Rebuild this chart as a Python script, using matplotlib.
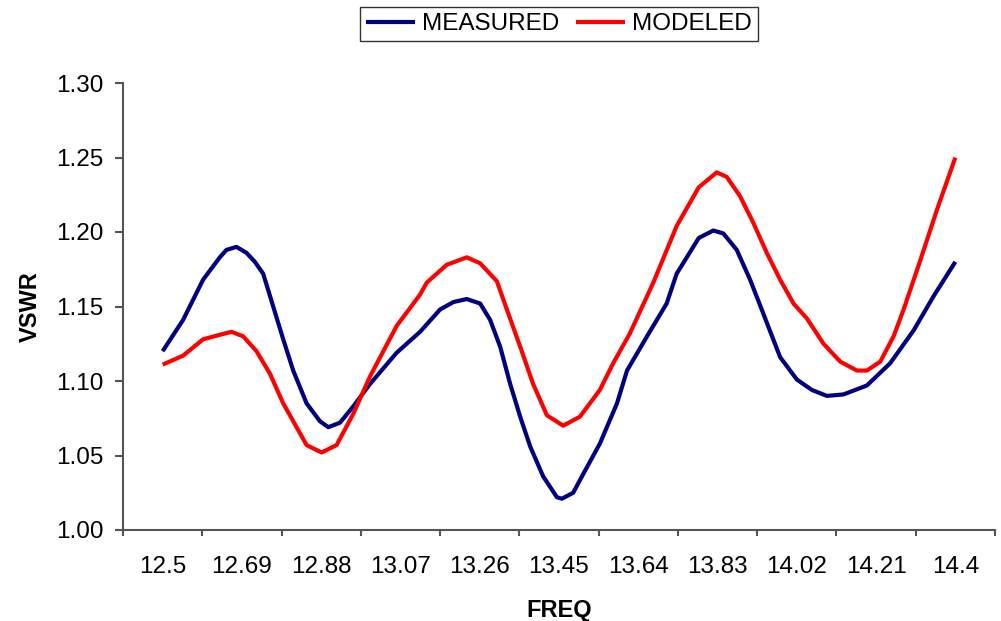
import matplotlib
matplotlib.use("Agg")
import matplotlib.pyplot as plt
from matplotlib.ticker import FixedLocator, NullFormatter

plt.rcParams['font.family'] = ['Liberation Sans', 'DejaVu Sans']

# values
meas_f = [12.50, 12.549, 12.597, 12.637, 12.653, 12.677, 12.701, 12.721, 12.741, 12.765,
          12.789, 12.813, 12.845, 12.877, 12.897, 12.925, 12.957, 12.997, 13.061, 13.117,
          13.165, 13.197, 13.229, 13.261, 13.285, 13.309, 13.333, 13.357, 13.381, 13.412,
          13.445, 13.457, 13.484, 13.505, 13.548, 13.589, 13.613, 13.661, 13.708, 13.732,
          13.785, 13.820, 13.844, 13.876, 13.908, 13.940, 13.980, 14.020, 14.056, 14.092,
          14.132, 14.188, 14.244, 14.300, 14.348, 14.40]
meas_v = [1.120, 1.141, 1.168, 1.183, 1.188, 1.190, 1.186, 1.180, 1.172, 1.150,
          1.128, 1.107, 1.085, 1.073, 1.069, 1.072, 1.083, 1.098, 1.119, 1.133,
          1.148, 1.153, 1.155, 1.152, 1.141, 1.123, 1.098, 1.076, 1.056, 1.036,
          1.022, 1.021, 1.025, 1.036, 1.058, 1.085, 1.107, 1.130, 1.152, 1.172,
          1.196, 1.201, 1.199, 1.188, 1.168, 1.145, 1.116, 1.101, 1.094, 1.090,
          1.091, 1.097, 1.112, 1.134, 1.157, 1.180]

mod_f = [12.50, 12.549, 12.597, 12.637, 12.665, 12.693, 12.725, 12.757, 12.789, 12.821,
         12.845, 12.881, 12.917, 12.957, 12.997, 13.061, 13.117, 13.133, 13.181, 13.229,
         13.261, 13.301, 13.325, 13.357, 13.388, 13.421, 13.460, 13.500, 13.548, 13.580,
         13.620, 13.676, 13.732, 13.785, 13.828, 13.852, 13.884, 13.916, 13.948, 13.980,
         14.012, 14.044, 14.084, 14.124, 14.164, 14.188, 14.220, 14.252, 14.276, 14.316,
         14.356, 14.40]
mod_v = [1.111, 1.117, 1.128, 1.131, 1.133, 1.130, 1.120, 1.105, 1.085, 1.069,
         1.057, 1.052, 1.057, 1.078, 1.103, 1.137, 1.158, 1.166, 1.178, 1.183,
         1.179, 1.167, 1.148, 1.123, 1.098, 1.077, 1.070, 1.076, 1.094, 1.112,
         1.132, 1.166, 1.204, 1.230, 1.240, 1.237, 1.224, 1.206, 1.186, 1.168,
         1.152, 1.142, 1.125, 1.113, 1.107, 1.107, 1.113, 1.130, 1.148, 1.181,
         1.215, 1.250]

freq_labels = ["12.5", "12.69", "12.88", "13.07", "13.26", "13.45",
               "13.64", "13.83", "14.02", "14.21", "14.4"]
step = 0.19
label_pos = [12.5 + i * step for i in range(len(freq_labels))]
tick_pos = [12.5 - step / 2 + i * step for i in range(len(freq_labels) + 1)]

fig = plt.figure(figsize=(10.01, 6.21), dpi=100)
ax = fig.add_axes([123 / 1001, 91 / 621, 872 / 1001, 447 / 621])

ax.plot(meas_f, meas_v, color='#000080', lw=3, label='MEASURED',
        solid_capstyle='butt', solid_joinstyle='round')
ax.plot(mod_f, mod_v, color='#FF0000', lw=3, label='MODELED',
        solid_capstyle='butt', solid_joinstyle='round')

ax.set_xlim(12.5 - step / 2, 14.4 + step / 2)
ax.set_ylim(1.0, 1.3)
ax.set_yticks([1.00, 1.05, 1.10, 1.15, 1.20, 1.25, 1.30])
ax.set_yticklabels([f"{v:.2f}" for v in [1.00, 1.05, 1.10, 1.15, 1.20, 1.25, 1.30]])

ax.xaxis.set_major_locator(FixedLocator(label_pos))
ax.set_xticklabels(freq_labels)
ax.xaxis.set_minor_locator(FixedLocator(tick_pos))
ax.xaxis.set_minor_formatter(NullFormatter())

for s in ['top', 'right']:
    ax.spines[s].set_visible(False)
for s in ['left', 'bottom']:
    ax.spines[s].set_color('#555555')
    ax.spines[s].set_linewidth(1.5)

ax.tick_params(axis='y', length=6, width=1.5, color='#555555', pad=8, labelsize=17.5)
ax.tick_params(axis='x', which='major', length=0, pad=19, labelsize=17.5)
ax.tick_params(axis='x', which='minor', length=4, width=1.5, color='#555555')

ax.set_ylabel('VSWR', fontsize=17, fontweight='bold', labelpad=10)
ax.set_xlabel('FREQ', fontsize=17, fontweight='bold', labelpad=15)

leg = fig.legend(loc='upper center', bbox_to_anchor=(559 / 1001, 1 - 7 / 621), ncol=2,
                 fontsize=17.5, frameon=True, fancybox=False, edgecolor='black',
                 borderaxespad=0, handlelength=2.0, handletextpad=0.3,
                 columnspacing=0.7, borderpad=0.25)
leg.get_frame().set_linewidth(1.0)

fig.savefig('out.png', dpi=100)
